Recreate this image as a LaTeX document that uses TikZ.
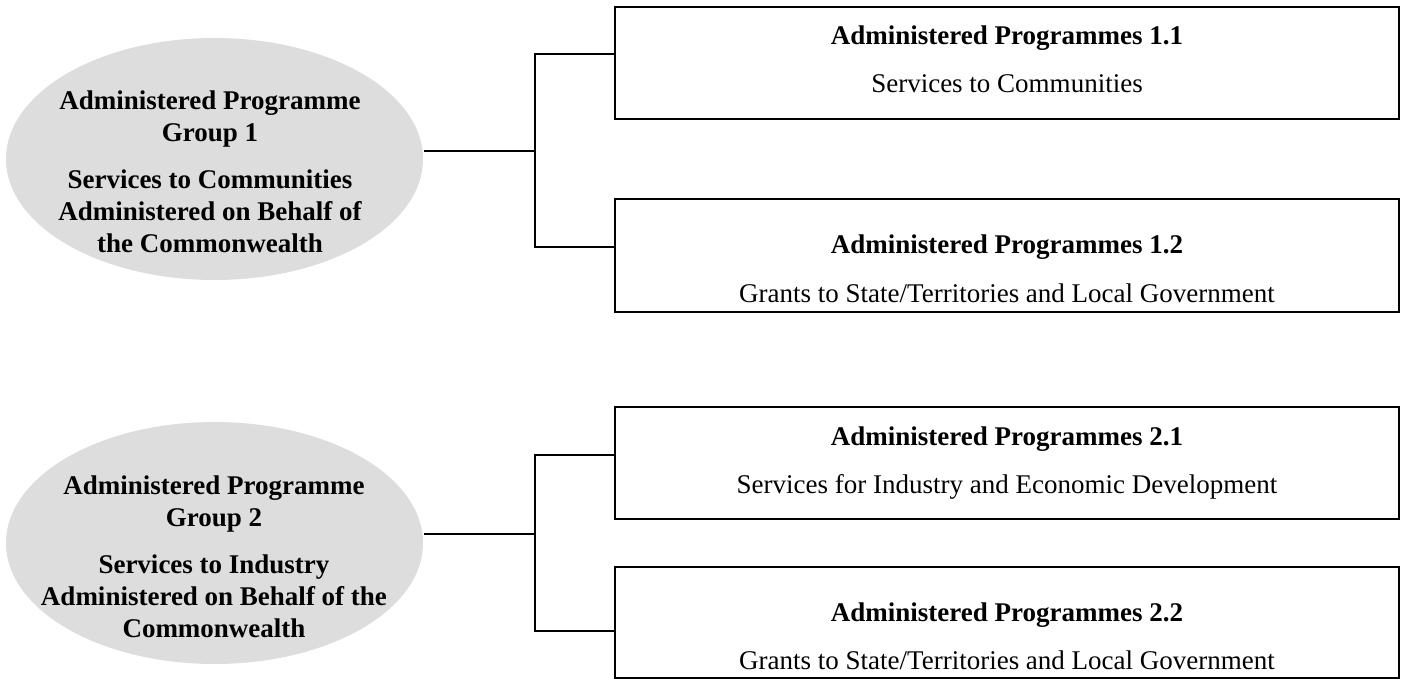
\documentclass[tikz,border=0pt]{standalone}
\usepackage{fontspec}
\setmainfont{Liberation Serif}
\usetikzlibrary{shapes.geometric}
\definecolor{groupfill}{HTML}{DDDDDD}
\begin{document}
\begin{tikzpicture}[x=1pt,y=-1pt,
  line width=2pt,
  groupshape/.style={ellipse, fill=groupfill, draw=none,
    minimum width=417pt, minimum height=242pt, inner sep=0pt},
  % multi-line text: the base anchor sits on the last line's baseline
  grouptext/.style={align=center, anchor=base, inner sep=0pt,
    font=\fontsize{27}{32}\selectfont\bfseries},
  progbox/.style={draw=black, line width=2pt, inner sep=0pt},
  progtext/.style={align=center, anchor=base, inner sep=0pt,
    font=\fontsize{27}{32}\selectfont},
  link/.style={draw=black, line width=2pt}
]
\useasboundingbox (0,0) rectangle (1404,679);

% ---- Group 1 ----
\node[groupshape] (g1) at (214.5,159) {};
\node[grouptext] (g1t) at (210,252)
  {Administered Programme\\Group 1\\[15pt]Services to Communities\\Administered on Behalf of\\the Commonwealth};

\node[progbox, minimum width=784pt, minimum height=112pt] (b11) at (1007,63) {};
\node[progtext] (b11t) at (1007,93)
  {\textbf{Administered Programmes 1.1}\\[16pt]Services to Communities};

\node[progbox, minimum width=784pt, minimum height=113pt] (b12) at (1007,255.5) {};
\node[progtext] (b12t) at (1007,302)
  {\textbf{Administered Programmes 1.2}\\[17pt]Grants to State/Territories and Local Government};

\coordinate (j1) at (535,151);
\coordinate (k11) at (535,54);
\coordinate (k12) at (535,247);
\draw[link] (g1.east |- j1) -- (j1);
\draw[link] (b11.west |- k11) -- (k11) -- (k12) -- (b12.west |- k12);

% ---- Group 2 ----
\node[groupshape] (g2) at (214.5,543) {};
\node[grouptext] (g2t) at (214,637)
  {Administered Programme\\Group 2\\[15pt]Services to Industry\\Administered on Behalf of the\\Commonwealth};

\node[progbox, minimum width=784pt, minimum height=112pt] (b21) at (1007,463) {};
\node[progtext] (b21t) at (1007,493)
  {\textbf{Administered Programmes 2.1}\\[16pt]Services for Industry and Economic Development};

\node[progbox, minimum width=784pt, minimum height=111pt] (b22) at (1007,622.5) {};
\node[progtext] (b22t) at (1007,669)
  {\textbf{Administered Programmes 2.2}\\[16pt]Grants to State/Territories and Local Government};

\coordinate (j2) at (535,534);
\coordinate (k21) at (535,455);
\coordinate (k22) at (535,631);
\draw[link] (g2.east |- j2) -- (j2);
\draw[link] (b21.west |- k21) -- (k21) -- (k22) -- (b22.west |- k22);
\end{tikzpicture}
\end{document}
